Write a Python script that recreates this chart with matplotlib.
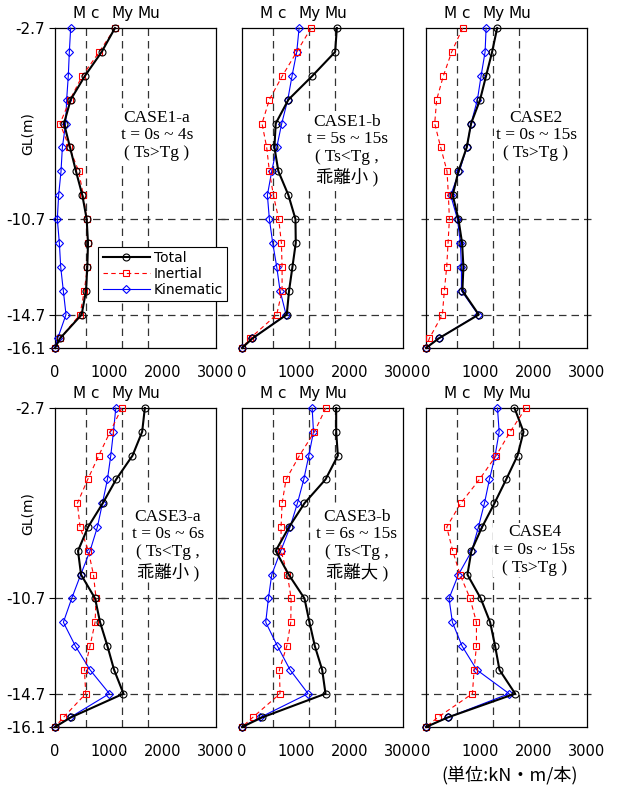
import numpy as np
import matplotlib
matplotlib.use("Agg")
import matplotlib.pyplot as plt

plt.rcParams["font.family"] = ["DejaVu Sans", "Noto Sans CJK JP"]

# depth of each section (GL, m)
depth = [-2.7, -3.7, -4.7, -5.7, -6.7, -7.7, -8.7, -9.7, -10.7, -11.7, -12.7, -13.7, -14.7, -15.7, -16.1]

# bending moment (kN*m / pile) per case
total = {
    "CASE1-a": [1118, 870, 559, 292, 168, 280, 391, 509, 590, 615, 602, 578, 497, 93, 0],
    "CASE1-b": [1767, 1736, 1313, 865, 628, 604, 678, 865, 996, 1002, 940, 877, 834, 193, 0],
    "CASE2": [1326, 1232, 1120, 1008, 840, 759, 604, 498, 604, 672, 697, 678, 983, 236, 0],
    "CASE3-a": [1674, 1624, 1444, 1139, 890, 616, 429, 485, 747, 840, 977, 1101, 1276, 292, 0],
    "CASE3-b": [1755, 1755, 1786, 1556, 1164, 877, 628, 871, 1164, 1257, 1357, 1494, 1556, 373, 0],
    "CASE4": [1649, 1817, 1705, 1494, 1276, 1045, 846, 772, 1020, 1195, 1288, 1369, 1661, 404, 0],
}
inertial = {
    "CASE1-a": [1118, 826, 509, 280, 93, 267, 441, 528, 590, 609, 602, 547, 466, 93, 0],
    "CASE1-b": [1288, 1020, 753, 510, 373, 460, 510, 585, 684, 734, 747, 747, 647, 149, 0],
    "CASE2": [684, 479, 324, 199, 162, 274, 392, 417, 436, 411, 386, 342, 305, 62, 0],
    "CASE3-a": [1245, 1027, 815, 610, 417, 467, 622, 716, 765, 747, 653, 548, 573, 156, 0],
    "CASE3-b": [1562, 1350, 1070, 821, 747, 728, 728, 846, 915, 909, 834, 697, 709, 199, 0],
    "CASE4": [1861, 1568, 1307, 996, 647, 386, 498, 635, 821, 940, 940, 896, 865, 218, 0],
}
kinematic = {
    "CASE1-a": [292, 267, 248, 217, 199, 137, 112, 68, 43, 81, 106, 155, 205, 50, 0],
    "CASE1-b": [1064, 1020, 933, 853, 740, 647, 554, 473, 510, 572, 647, 709, 821, 193, 0],
    "CASE2": [1120, 1101, 1027, 958, 840, 759, 622, 460, 585, 641, 660, 660, 971, 236, 0],
    "CASE3-a": [1133, 1089, 1039, 977, 884, 790, 653, 479, 311, 156, 380, 653, 1014, 280, 0],
    "CASE3-b": [1307, 1332, 1245, 1151, 1033, 896, 722, 554, 492, 442, 660, 896, 1232, 336, 0],
    "CASE4": [1332, 1363, 1288, 1182, 1089, 977, 853, 604, 429, 492, 672, 946, 1549, 404, 0],
}

notes = {
    "CASE1-a": "CASE1-a\nt = 0s ~ 4s\n( Ts>Tg )",
    "CASE1-b": "CASE1-b\nt = 5s ~ 15s\n( Ts<Tg ,\n乖離小 )",
    "CASE2": "CASE2\nt = 0s ~ 15s\n( Ts>Tg )",
    "CASE3-a": "CASE3-a\nt = 0s ~ 6s\n( Ts<Tg ,\n乖離小 )",
    "CASE3-b": "CASE3-b\nt = 6s ~ 15s\n( Ts<Tg ,\n乖離大 )",
    "CASE4": "CASE4\nt = 0s ~ 15s\n( Ts>Tg )",
}

# limit moments
Mc, My, Mu = 580, 1250, 1740
limit_labels = ["M c", "My", "Mu"]
ref_depths = [-10.7, -14.7]
ytick_vals = [-2.7, -10.7, -14.7, -16.1]
xtick_vals = [0, 1000, 2000, 3000]

W, H = 618, 787
fig = plt.figure(figsize=(W / 100, H / 100), dpi=100)

cols = [(55, 216), (242, 403), (426, 587)]
rows = [(28, 348), (408, 727)]
cases = [["CASE1-a", "CASE1-b", "CASE2"], ["CASE3-a", "CASE3-b", "CASE4"]]
text_pos = {
    "CASE1-a": (1900, -7.2), "CASE1-b": (1960, -7.8), "CASE2": (2050, -7.2),
    "CASE3-a": (2100, -8.45), "CASE3-b": (2140, -8.45), "CASE4": (2030, -8.66),
}
hline_span = [(0, 1.06), (-0.13, 1.0), (-0.03, 1.03)]

serif = ["Liberation Serif", "Noto Sans CJK JP"]

for r, (top, bot) in enumerate(rows):
    for c, (left, right) in enumerate(cols):
        name = cases[r][c]
        ax = fig.add_axes([left / W, 1 - bot / H, (right - left) / W, (bot - top) / H])
        ax.set_xlim(0, 3000)
        ax.set_ylim(-16.1, -2.7)

        for v in (Mc, My, Mu):
            ax.axvline(v, color="#333333", ls=(0, (6, 4)), lw=0.9, zorder=1)
        for d in ref_depths:
            ax.axhline(d, xmin=hline_span[c][0], xmax=hline_span[c][1], color="#333333",
                       ls=(0, (6, 4)), lw=0.9, clip_on=False, zorder=1)

        for v, lab in zip((Mc, My, Mu), limit_labels):
            ax.text(v, 1.045, lab, transform=ax.get_xaxis_transform(), ha="center",
                    va="center", fontsize=11)

        tx, ty = text_pos[name]
        ax.text(tx, ty, notes[name], ha="center", va="center", fontsize=12.5,
                family=serif, linespacing=1.15, zorder=2,
                bbox=dict(facecolor="white", edgecolor="none", pad=1))

        ax.plot(kinematic[name], depth, color="blue", lw=0.8, marker="D", ms=4,
                mfc="none", mew=0.8, label="Kinematic", zorder=3, clip_on=False)
        ax.plot(inertial[name], depth, color="red", lw=0.8, ls=(0, (4, 3)), marker="s",
                ms=4.5, mfc="none", mew=0.8, label="Inertial", zorder=4, clip_on=False)
        ax.plot(total[name], depth, color="black", lw=1.5, marker="o", ms=5,
                mfc="none", mew=0.8, label="Total", zorder=5, clip_on=False)

        ax.set_xticks(xtick_vals)
        ax.tick_params(axis="x", length=0, pad=12, labelsize=10.5)
        ax.set_yticks(ytick_vals)
        if c == 0:
            ax.set_yticklabels([str(v) for v in ytick_vals])
            ax.tick_params(axis="y", length=4, pad=3, labelsize=11)
            ax.text(-0.17, 0.67, "GL(m)", transform=ax.transAxes, rotation=90,
                    ha="center", va="center", fontsize=10)
        else:
            ax.set_yticklabels([])
            ax.tick_params(axis="y", length=0)
        for s in ax.spines.values():
            s.set_linewidth(0.9)

        if name == "CASE1-a":
            h, l = ax.get_legend_handles_labels()
            order = [2, 1, 0]
            leg = ax.legend([h[i] for i in order], [l[i] for i in order],
                            loc="upper left", bbox_to_anchor=(0.27, 0.316),
                            fontsize=10, handlelength=3.4, labelspacing=0.15,
                            borderpad=0.3, handletextpad=0.3, borderaxespad=0,
                            fancybox=False, framealpha=1, edgecolor="black")
            leg.get_frame().set_linewidth(0.8)
            leg.set_zorder(10)

fig.text(510 / W, 1 - 775 / H, "(単位:kN・m/本)", ha="center", va="center",
         fontsize=13, family=["Noto Sans CJK JP", "DejaVu Sans"])

fig.savefig("out.png", dpi=100)
